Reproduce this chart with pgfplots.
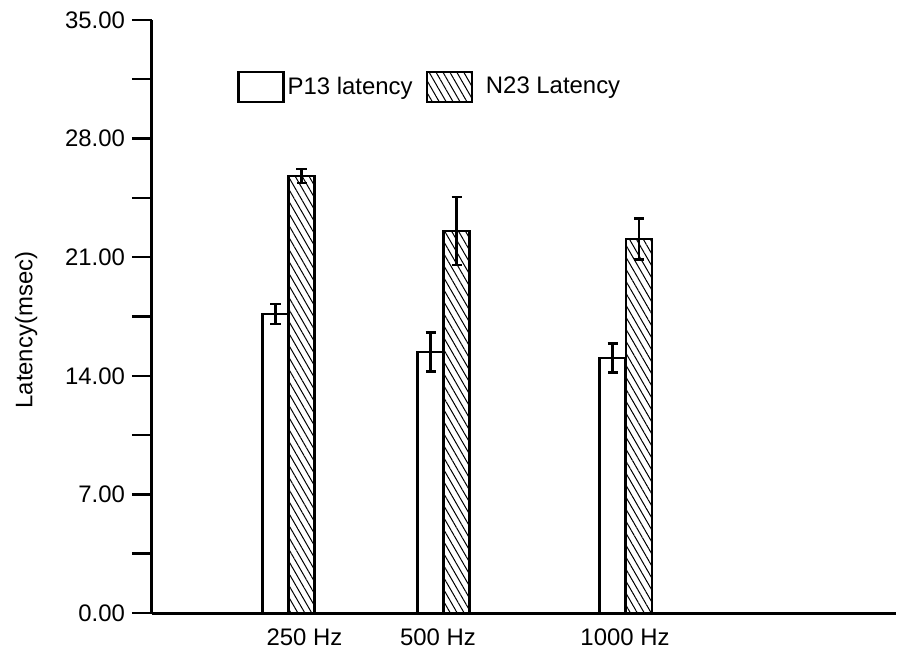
\documentclass[border=0pt]{standalone}
\usepackage{fontspec}
\setmainfont{Liberation Sans}
\usepackage{pgfplots}
\pgfplotsset{compat=1.18}
\usetikzlibrary{patterns.meta}
\begin{document}
\begin{tikzpicture}[font=\fontsize{12}{14}\selectfont]
\begin{axis}[
  scale only axis, width=372bp, height=296.5bp,
  xmin=152, xmax=896, ymin=0, ymax=35,
  axis lines*=left,
  axis line style={line width=1.5bp, black},
  clip=false,
  xtick={304.5,438,625}, xticklabels={250 Hz,500 Hz,1000 Hz},
  major x tick style={draw=none},
  xticklabel style={yshift=5.8bp},
  ytick={0,7,...,35}, minor ytick={3.5,10.5,17.5,24.5,31.5},
  tick align=outside, major tick length=10bp, minor tick length=10bp,
  y tick style={line width=1.2bp, black},
  /pgf/number format/assume math mode=true,
  yticklabel style={/pgf/number format/fixed, /pgf/number format/fixed zerofill, /pgf/number format/precision=2},
  ylabel={Latency(msec)},
  ylabel style={at={(axis description cs:-0.169,0.477)}, anchor=center},
  legend style={at={(axis description cs:0.114,0.887)}, anchor=west, draw=none, fill=none, inner sep=0pt,
    legend columns=2, nodes={inner sep=1.5bp},
    /tikz/every odd column/.append style={column sep=0bp},
    /tikz/every even column/.append style={column sep=5bp}},
  legend cell align=left,
]
\addlegendimage{legend image code/.code={\draw[line width=1.2bp, fill=white] (0bp,-7.5bp) rectangle (22.5bp,7.5bp);}}
\addlegendentry{P13 latency}
\addlegendimage{legend image code/.code={\draw[line width=1.2bp, pattern={Lines[angle=120, distance=3bp, line width=0.5bp]}] (0bp,-7.5bp) rectangle (22.5bp,7.5bp);}}
\addlegendentry{\hspace{5bp}N23 Latency}

\addplot[forget plot, ybar, bar width=26, bar shift=0, draw=black, line width=1.2bp, fill=white,
  error bars/y dir=both, error bars/y explicit,
  error bars/error bar style={line width=1.2bp, black},
  error bars/error mark options={rotate=90, mark size=2.5bp, line width=1.2bp, black}]
  coordinates {(275.5,17.65) +- (0,0.59) (430.5,15.40) +- (0,1.15) (612.5,15.05) +- (0,0.86)};
\addplot[forget plot, ybar, bar width=26, bar shift=0, draw=black, line width=1.2bp,
  pattern={Lines[angle=120, distance=3bp, line width=0.5bp]},
  error bars/y dir=both, error bars/y explicit,
  error bars/error bar style={line width=1.2bp, black},
  error bars/error mark options={rotate=90, mark size=2.5bp, line width=1.2bp, black}]
  coordinates {(301.5,25.79) +- (0,0.41) (456.5,22.55) +- (0,2.0) (639,22.07) +- (0,1.21)};
\end{axis}
\pgfresetboundingbox
\path ([shift={(-76bp,-18bp)}]current axis.south west) rectangle ([shift={(1bp,10bp)}]current axis.north east);
\end{tikzpicture}
\end{document}
